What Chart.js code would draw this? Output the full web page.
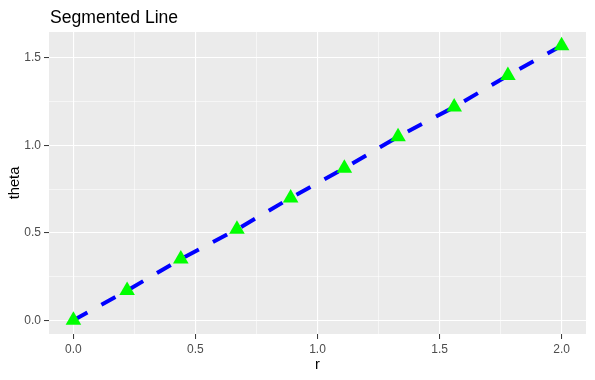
<!DOCTYPE html>
<html>
<head>
<meta charset="utf-8">
<script src="https://cdn.jsdelivr.net/npm/chart.js@4"></script>
<style>
  html, body { margin: 0; padding: 0; background: #ffffff; }
  #wrap { width: 595px; height: 380px; }
</style>
</head>
<body>
<div id="wrap"><canvas id="chart" width="595" height="380"></canvas></div>
<script>
// data
const rValues = [0, 0.22, 0.44, 0.67, 0.89, 1.11, 1.33, 1.56, 1.78, 2.0];
const thetaValues = [0, 0.17, 0.35, 0.52, 0.70, 0.87, 1.05, 1.22, 1.40, 1.57];
const xMajorTicks = [0, 0.5, 1.0, 1.5, 2.0];
const yMajorTicks = [0, 0.5, 1.0, 1.5];

const chartTitle = 'Segmented Line';
const xTitle = 'r';
const yTitle = 'theta';

Chart.defaults.font.family = '"Liberation Sans", Arial, sans-serif';

const isMajor = (v, list) => list.some(m => Math.abs(m - v) < 1e-6);

// grey panel behind the grid, ggplot style
const panelBg = {
    id: 'panelBg',
    beforeDraw(chart) {
        const { ctx, chartArea: a } = chart;
        ctx.save();
        ctx.fillStyle = '#EBEBEB';
        ctx.fillRect(a.left, a.top, a.right - a.left, a.bottom - a.top);
        ctx.restore();
    },
    afterDraw(chart) {
        const { ctx, chartArea: a } = chart;
        ctx.save();
        ctx.fillStyle = '#000000';
        ctx.font = '17.6px "Liberation Sans", Arial, sans-serif';
        ctx.textBaseline = 'alphabetic';
        ctx.textAlign = 'left';
        ctx.fillText(chartTitle, a.left + 1, 22.5);
        ctx.restore();
    }
};

function gridOpts(major) {
    return {
        color: '#FFFFFF',
        lineWidth: ctx => isMajor(ctx.tick.value, major) ? 1.1 : 0.55,
        tickColor: ctx => isMajor(ctx.tick.value, major) ? '#333333' : 'rgba(0,0,0,0)',
        tickWidth: 1,
        tickLength: 5,
        drawTicks: true
    };
}

new Chart(document.getElementById('chart'), {
    type: 'line',
    data: {
        datasets: [{
            label: 'theta',
            data: rValues.map((r, i) => ({ x: r, y: thetaValues[i] })),
            borderColor: '#0000FF',
            borderWidth: 4,
            borderDash: [16, 16],
            borderCapStyle: 'butt',
            tension: 0,
            fill: false,
            pointStyle: 'triangle',
            pointRadius: 9,
            pointBackgroundColor: '#00FF00',
            pointBorderColor: '#00FF00',
            pointBorderWidth: 0
        }]
    },
    options: {
        responsive: false,
        animation: false,
        layout: { padding: { left: 0, top: 32, right: 8, bottom: 0 } },
        plugins: {
            legend: { display: false },
            title: { display: false },
            tooltip: { enabled: false }
        },
        scales: {
            x: {
                type: 'linear',
                min: -0.1,
                max: 2.1,
                border: { display: false },
                grid: gridOpts(xMajorTicks),
                ticks: {
                    stepSize: 0.25,
                    includeBounds: false,
                    autoSkip: false,
                    maxRotation: 0,
                    padding: 3,
                    color: '#4D4D4D',
                    font: { size: 12 },
                    callback: v => isMajor(v, xMajorTicks) ? v.toFixed(1) : ''
                },
                title: {
                    display: true,
                    text: xTitle,
                    color: '#000000',
                    font: { size: 14.7 },
                    padding: { top: 0, bottom: 6 }
                },
                afterFit: s => { s.height = 46; }
            },
            y: {
                type: 'linear',
                min: -0.0785,
                max: 1.649,
                border: { display: false },
                grid: gridOpts(yMajorTicks),
                ticks: {
                    stepSize: 0.25,
                    includeBounds: false,
                    autoSkip: false,
                    padding: 3,
                    color: '#4D4D4D',
                    font: { size: 12 },
                    callback: v => isMajor(v, yMajorTicks) ? v.toFixed(1) : ''
                },
                title: {
                    display: true,
                    text: yTitle,
                    color: '#000000',
                    font: { size: 14.7 },
                    padding: { top: 6, bottom: 0 }
                },
                afterFit: s => { s.width = 49; }
            }
        }
    },
    plugins: [panelBg]
});
</script>
</body>
</html>
